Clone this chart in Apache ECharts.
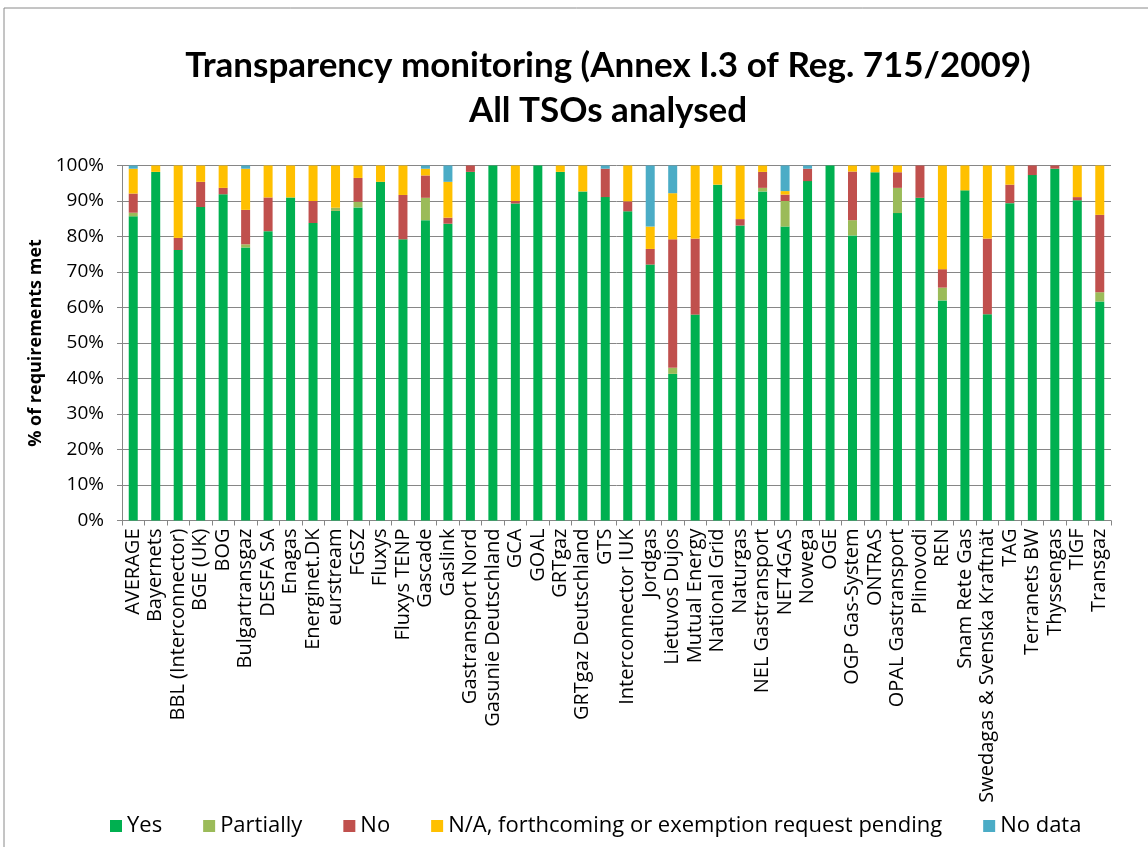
<!DOCTYPE html>
<html>
<head>
<meta charset="utf-8">
<script src="https://cdn.jsdelivr.net/npm/echarts@6/dist/echarts.min.js"></script>
<style>
  html, body { margin: 0; padding: 0; background: #fff; }
  #main { width: 1148px; height: 847px; }
</style>
</head>
<body>
<div id="main"></div>
<script>
  // TSO names, in chart order
  var tsos = ['AVERAGE', 'Bayernets', 'BBL (Interconnector)', 'BGE (UK)', 'BOG', 'Bulgartransgaz',
    'DESFA SA', 'Enagas', 'Energinet.DK', 'eurstream', 'FGSZ', 'Fluxys', 'Fluxys TENP', 'Gascade',
    'Gaslink', 'Gastransport Nord', 'Gasunie Deutschland', 'GCA', 'GOAL', 'GRTgaz',
    'GRTgaz Deutschland', 'GTS', 'Interconnector IUK', 'Jordgas', 'Lietuvos Dujos', 'Mutual Energy',
    'National Grid', 'Naturgas', 'NEL Gastransport', 'NET4GAS', 'Nowega', 'OGE', 'OGP Gas-System',
    'ONTRAS', 'OPAL Gastransport', 'Plinovodi', 'REN', 'Snam Rete Gas', 'Swedagas & Svenska Kraftnät',
    'TAG', 'Terranets BW', 'Thyssengas', 'TIGF', 'Transgaz'];

  // share of requirements (%)
  var yes = [85.7, 98.2, 76.2, 88.3, 91.9, 76.9, 81.5, 91.0, 83.8, 87.2, 88.2, 95.4, 79.2, 84.6,
    83.6, 98.2, 100, 89.3, 100, 98.2, 92.7, 91.1, 87.1, 72.1, 41.3, 58.0, 94.6, 83.1, 92.7, 82.8,
    95.6, 100, 80.3, 98.1, 86.6, 90.9, 62.0, 93.0, 58.1, 89.4, 97.3, 99.1, 90.2, 61.7];
  var partially = [1.0, 0, 0, 0, 0, 0.9, 0, 0, 0, 0.9, 1.6, 0, 0, 6.3,
    0, 0, 0, 0, 0, 0, 0, 0, 0, 0, 1.7, 0, 0, 0, 1.0, 7.2,
    0, 0, 4.3, 0, 7.1, 0, 3.6, 0, 0, 0, 0, 0, 0, 2.6];
  var no = [5.4, 0, 3.4, 7.1, 1.8, 9.7, 9.5, 0, 6.2, 0, 6.7, 0, 12.5, 6.3,
    1.7, 1.8, 0, 0.7, 0, 0, 0, 8.0, 2.8, 4.4, 36.2, 21.4, 0, 1.8, 4.5, 1.8,
    3.5, 0, 13.7, 0, 4.4, 9.1, 5.2, 0, 21.3, 5.2, 2.7, 0.9, 0.9, 21.8];
  var notApplicable = [7.0, 1.8, 20.4, 4.6, 6.3, 11.6, 9.0, 9.0, 10.0, 11.9, 3.5, 4.6, 8.3, 1.9,
    10.1, 0, 0, 10.0, 0, 1.8, 7.3, 0, 10.1, 6.3, 13.0, 20.6, 5.4, 15.1, 1.8, 1.0,
    0, 0, 1.7, 1.9, 1.9, 0, 29.2, 7.0, 20.6, 5.4, 0, 0, 8.9, 13.9];
  var noData = [0.9, 0, 0, 0, 0, 0.9, 0, 0, 0, 0, 0, 0, 0, 0.9,
    4.6, 0, 0, 0, 0, 0, 0, 0.9, 0, 17.2, 7.8, 0, 0, 0, 0, 7.2,
    0.9, 0, 0, 0, 0, 0, 0, 0, 0, 0, 0, 0, 0, 0];

  var myChart = echarts.init(document.getElementById('main'));

  function bar(name, data, color) {
    return {
      name: name,
      type: 'bar',
      stack: 'all',
      barWidth: 9,
      data: data,
      itemStyle: { color: color },
      emphasis: { disabled: true }
    };
  }

  myChart.setOption({
    animation: false,
    textStyle: { fontFamily: 'Open Sans' },
    title: {
      text: 'Transparency monitoring (Annex I.3 of Reg. 715/2009)\nAll TSOs analysed',
      left: 603,
      textAlign: 'center',
      top: 38,
      textStyle: {
        fontFamily: 'Lato',
        fontWeight: 'bold',
        fontSize: 35,
        lineHeight: 45,
        color: '#000'
      }
    },
    graphic: [{
      type: 'rect',
      shape: { x: 4, y: 8, width: 1200, height: 900 },
      style: { fill: 'none', stroke: '#8a8a8a', lineWidth: 1 },
      silent: true
    }],
    legend: {
      left: 105,
      top: 810,
      itemWidth: 12,
      itemHeight: 12,
      itemGap: 41,
      icon: 'rect',
      textStyle: { fontSize: 22, color: '#000' }
    },
    grid: {
      left: 122,
      right: 37,
      top: 165.5,
      bottom: 326.5
    },
    xAxis: {
      type: 'category',
      data: tsos,
      axisLine: { lineStyle: { color: '#868686' } },
      axisTick: { show: true, length: 5, lineStyle: { color: '#868686' } },
      axisLabel: { interval: 0, rotate: 90, fontSize: 20, color: '#000', margin: 8 }
    },
    yAxis: {
      type: 'value',
      min: 0,
      max: 100,
      interval: 10,
      name: '% of requirements met',
      nameLocation: 'middle',
      nameGap: 74,
      nameTextStyle: { fontSize: 18, fontWeight: 'bold', color: '#000' },
      axisLine: { show: true, lineStyle: { color: '#868686' } },
      axisTick: { show: true, length: 5, lineStyle: { color: '#868686' } },
      axisLabel: { formatter: '{value}%', fontSize: 19, color: '#000', margin: 18 },
      splitLine: { lineStyle: { color: '#868686', width: 1 } }
    },
    series: [
      bar('Yes', yes, '#00B050'),
      bar('Partially', partially, '#9BBB59'),
      bar('No', no, '#C0504D'),
      bar('N/A, forthcoming or exemption request pending', notApplicable, '#FFC000'),
      bar('No data', noData, '#4BACC6')
    ]
  });
</script>
</body>
</html>
